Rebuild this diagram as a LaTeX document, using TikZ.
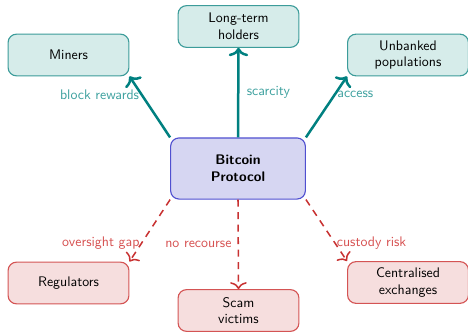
\documentclass[tikz,border=0pt]{standalone}
\usetikzlibrary{arrows.meta}
\renewcommand{\familydefault}{\sfdefault}
\definecolor{tealfill}{RGB}{214,236,234}
\definecolor{tealborder}{RGB}{60,156,154}
\definecolor{tealarrow}{RGB}{0,128,128}
\definecolor{teallabel}{RGB}{60,160,158}
\definecolor{redfill}{RGB}{246,222,222}
\definecolor{redborder}{RGB}{212,84,84}
\definecolor{redarrow}{RGB}{200,50,50}
\definecolor{redlabel}{RGB}{214,80,80}
\definecolor{bluefill}{RGB}{214,214,242}
\definecolor{blueborder}{RGB}{80,80,208}
\tikzset{
  box/.style={rounded corners=6pt, line width=0.8pt, minimum width=87pt, minimum height=30pt, align=center, font=\sffamily},
  goodbox/.style={box, draw=tealborder, fill=tealfill},
  badbox/.style={box, draw=redborder, fill=redfill},
  hubbox/.style={box, draw=blueborder, fill=bluefill, minimum width=97pt, minimum height=44pt, font=\sffamily\bfseries},
  goodarrow/.style={draw=tealarrow, line width=1.8pt, -{Computer Modern Rightarrow[length=6pt, width=14pt]}},
  badarrow/.style={draw=redarrow, line width=1.1pt, dash pattern=on 5pt off 4pt, -{Computer Modern Rightarrow[length=5pt, width=12pt]}},
  goodlabel/.style={text=teallabel, font=\sffamily},
  badlabel/.style={text=redlabel, font=\sffamily},
  tight/.style={inner sep=1pt},
}
\begin{document}
\begin{tikzpicture}[x=0.72pt,y=-0.72pt]
\useasboundingbox (0,0) rectangle (468,331);
\node[hubbox] (hub) at (238,168.5) {Bitcoin\\Protocol};
\node[goodbox] (miners) at (68.5,55) {Miners};
\node[goodbox] (holders) at (238.5,26.5) {Long-term\\holders};
\node[goodbox] (unbanked) at (408,55) {Unbanked\\populations};
\node[badbox] (regulators) at (68.5,283) {Regulators};
\node[badbox] (scam) at (238.5,310.5) {Scam\\victims};
\node[badbox] (exchanges) at (408,282.5) {Centralised\\exchanges};
\draw[goodarrow] (hub.north west) -- node[goodlabel, tight, pos=0.7, left] {block rewards} (miners.south east);
\draw[goodarrow] (hub.north) -- node[goodlabel, midway, right, xshift=2pt] {scarcity} (holders.south);
\draw[goodarrow] (hub.north east) -- node[goodlabel, tight, pos=0.7, right] {access} (unbanked.south west);
\draw[badarrow] (hub.south west) -- node[badlabel, tight, pos=0.7, left] {oversight gap} (regulators.north east);
\draw[badarrow] (hub.south) -- node[badlabel, midway, left, xshift=-1pt] {no recourse} (scam.north);
\draw[badarrow] (hub.south east) -- node[badlabel, tight, pos=0.7, right] {custody risk} (exchanges.north west);
\end{tikzpicture}
\end{document}
